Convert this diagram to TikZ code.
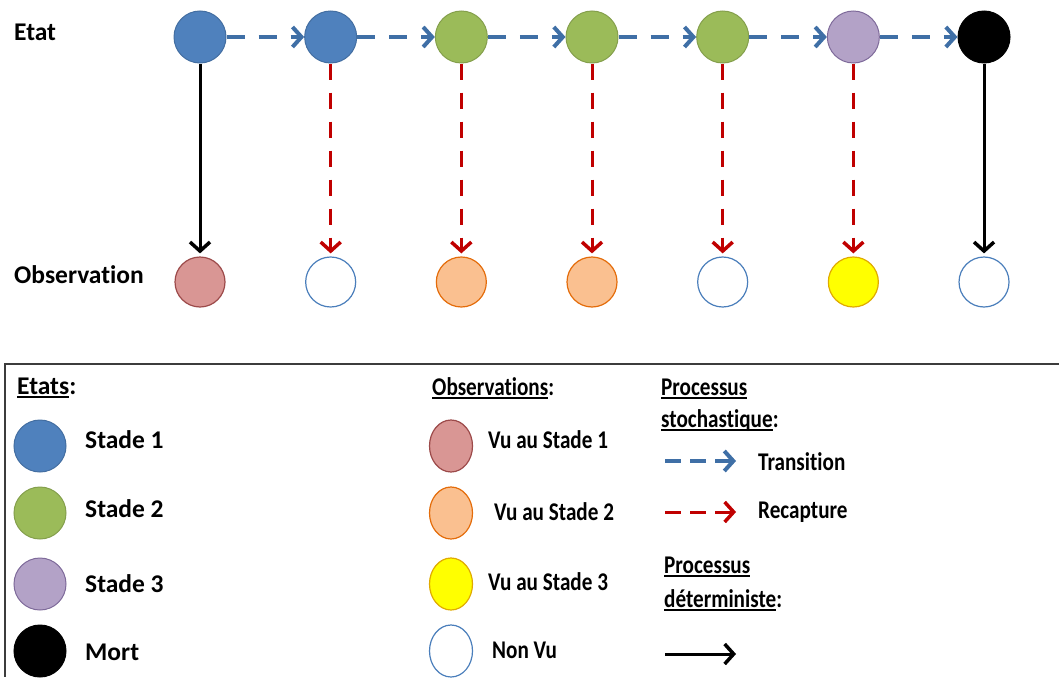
\documentclass[tikz,border=0pt]{standalone}
\usepackage{fontspec}
\setmainfont[Ligatures=NoCommon]{Carlito}
\usetikzlibrary{arrows.meta,positioning,shapes.geometric}

\definecolor{stadeA}{HTML}{4F81BD}
\definecolor{stadeB}{HTML}{9BBB59}
\definecolor{stadeC}{HTML}{B3A2C7}
\definecolor{stadeCd}{HTML}{7E6A9A}
\definecolor{obsA}{HTML}{D99694}
\definecolor{obsAd}{HTML}{9C4A4A}
\definecolor{obsB}{HTML}{FAC090}
\definecolor{obsBd}{HTML}{E46C0A}
\definecolor{obsC}{HTML}{FFFF00}
\definecolor{obsCd}{HTML}{E0AA00}
\definecolor{nonvuD}{HTML}{4A7EBB}
\definecolor{transblue}{HTML}{3F6FA6}
\definecolor{recapred}{HTML}{C00000}
\definecolor{boxgray}{HTML}{3C3C3C}

\newlength{\soulw}
\newcommand{\souligne}[1]{\settowidth{\soulw}{#1}\rlap{\rule[-4pt]{\soulw}{1.8pt}}#1}
\newcommand{\nrw}[1]{\scalebox{0.83}[1]{#1}}

\begin{document}
\begin{tikzpicture}[x=1pt,y=-1pt,node distance=130.67pt,on grid,
    font=\fontsize{25.5}{30}\selectfont\bfseries,
    etat/.style={circle,minimum size=52pt,inner sep=0pt,fill=#1,draw=#1!85!black,line width=1pt},
    obs/.style 2 args={circle,minimum size=50pt,inner sep=0pt,fill=#1,draw=#2,line width=1.2pt},
    obsleg/.style 2 args={ellipse,minimum width=43pt,minimum height=52pt,inner sep=0pt,fill=#1,draw=#2,line width=1.2pt},
    lbl/.style={anchor=base west,inner sep=0pt},
    chevron/.style={-{Straight Barb[length=9pt,width=20pt,line width=#1]}},
    transition/.style={draw=transblue,line width=3.5pt,dash pattern=on 18pt off 14pt,chevron=4pt},
    recapture/.style={draw=recapred,line width=3pt,dash pattern=on 16pt off 13pt,chevron=3.5pt,shorten >=3pt},
    determ/.style={draw=black,line width=3pt,chevron=3.5pt,shorten >=3pt}]
  \useasboundingbox (0,0) rectangle (1059,677);

  % etats
  \node[etat=stadeA] (s1) at (200,37) {};
  \node[etat=stadeA] (s2) [right=of s1] {};
  \node[etat=stadeB] (s3) [right=of s2] {};
  \node[etat=stadeB] (s4) [right=of s3] {};
  \node[etat=stadeB] (s5) [right=of s4] {};
  \node[etat=stadeC,draw=stadeCd] (s6) [right=of s5] {};
  \node[etat=black] (s7) [right=of s6] {};

  % observations
  \node[obs={obsA}{obsAd}] (o1) [below=245pt of s1] {};
  \node[obs={white}{nonvuD}] (o2) [below=245pt of s2] {};
  \node[obs={obsB}{obsBd}] (o3) [below=245pt of s3] {};
  \node[obs={obsB}{obsBd}] (o4) [below=245pt of s4] {};
  \node[obs={white}{nonvuD}] (o5) [below=245pt of s5] {};
  \node[obs={obsC}{obsCd}] (o6) [below=245pt of s6] {};
  \node[obs={white}{nonvuD}] (o7) [below=245pt of s7] {};

  \node[lbl] (etat) at (14,41) {Etat};
  \node[lbl] (observ) at (14,283) {Observation};

  \path[transition] (s1) edge (s2) (s2) edge (s3) (s3) edge (s4)
    (s4) edge (s5) (s5) edge (s6) (s6) edge (s7);
  \path[recapture] (s2) edge (o2) (s3) edge (o3) (s4) edge (o4)
    (s5) edge (o5) (s6) edge (o6);
  \path[determ] (s1) edge (o1) (s7) edge (o7);

  % legende
  \draw[boxgray,line width=2pt] (1059,364) -| (5,677);

  \node[lbl] (etats) at (17,394) {\souligne{Etats}:};
  \node[etat=stadeA] (lgA) at (40,446) {};
  \node[etat=stadeB] (lgB) at (40,513) {};
  \node[etat=stadeC,draw=stadeCd] (lgC) at (40,584) {};
  \node[etat=black] (lgD) at (40,651) {};
  \node[lbl] at (85,448) {Stade 1};
  \node[lbl] at (85,517) {Stade 2};
  \node[lbl] at (85,592) {Stade 3};
  \node[lbl] at (85,660) {Mort};

  \node[lbl] (observs) at (432,395) {\nrw{\souligne{Observations}:}};
  \node[obsleg={obsA}{obsAd}] (loA) at (451,446) {};
  \node[obsleg={obsB}{obsBd}] (loB) at (451,513) {};
  \node[obsleg={obsC}{obsCd}] (loC) at (451,584) {};
  \node[obsleg={white}{nonvuD}] (loD) at (451,651) {};
  \node[lbl] at (488,448) {\nrw{Vu au Stade 1}};
  \node[lbl] at (494,520) {\nrw{Vu au Stade 2}};
  \node[lbl] at (488,590) {\nrw{Vu au Stade 3}};
  \node[lbl] at (492,658) {\nrw{Non Vu}};

  \node[lbl] (stoch) at (661,395) {\nrw{\souligne{Processus}}};
  \node[lbl] at (661,427) {\nrw{\souligne{stochastique}:}};
  \coordinate (ta) at (665,461);
  \coordinate (tb) at (736,461);
  \coordinate (ra) at (665,512);
  \coordinate (rb) at (736,512);
  \draw[transition,dash pattern=on 16pt off 9pt] (ta) -- (tb);
  \draw[recapture,dash pattern=on 16pt off 9pt,shorten >=0pt] (ra) -- (rb);
  \node[lbl] at (758,470) {\nrw{Transition}};
  \node[lbl] at (758,518) {\nrw{Recapture}};

  \node[lbl] (determin) at (664,573) {\nrw{\souligne{Processus}}};
  \node[lbl] at (664,607) {\nrw{\souligne{déterministe}:}};
  \coordinate (da) at (665,654);
  \coordinate (db) at (736,654);
  \draw[determ,shorten >=0pt] (da) -- (db);
\end{tikzpicture}
\end{document}
